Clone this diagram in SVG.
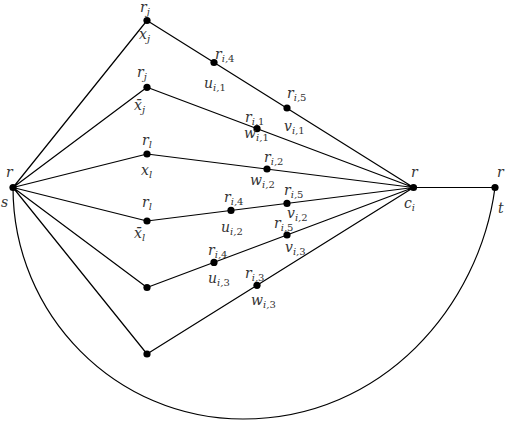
<svg xmlns="http://www.w3.org/2000/svg" width="508" height="421" viewBox="0 0 508 421">
<style>
.e{stroke:#000;stroke-width:1.2;fill:none}
.d{fill:#000}
text{font-family:"DejaVu Serif",serif;font-style:italic;font-size:14px;fill:#333}
.s{font-size:10px}
.n{font-style:normal}
</style>
<rect width="508" height="421" fill="#fff"/>
<g id="connectors">
<path class="e" d="M13,187.5L147,20.5M13,187.5L147,87.3M13,187.5L147,154M13,187.5L147,221M13,187.5L147,287.5M13,187.5L147,354"/>
<path class="e" d="M147,20.5L413.5,187.5M147,87.3L413.5,187.5M147,154L413.5,187.5M147,221L413.5,187.5M147,287.5L413.5,187.5M147,354L413.5,187.5M413.5,187.5L495,187.5"/>
<path class="e" d="M13,187.5C13,315 116,419 243,419C383,419 479.4,305.8 495,187.5"/>
</g>
<g id="s"><circle class="d" cx="13" cy="187.5" r="3.6"/><text x="6" y="177">r</text><text x="1" y="207">s</text></g>
<g id="ci"><circle class="d" cx="413.5" cy="187.5" r="3.6"/><text x="411" y="177">r</text><text x="404" y="208">c<tspan class="s" dy="3">i</tspan></text></g>
<g id="t"><circle class="d" cx="495" cy="187.5" r="3.6"/><text x="497" y="177">r</text><text x="498" y="213">t</text></g>
<g id="xj"><circle class="d" cx="147" cy="20.5" r="3.6"/><text x="140" y="12">r<tspan class="s" dy="3">j</tspan></text><text x="139" y="39">x<tspan class="s" dy="3">j</tspan></text></g>
<g id="xbarj"><circle class="d" cx="147" cy="87.3" r="3.6"/><text x="137" y="77">r<tspan class="s" dy="3">j</tspan></text><text x="134" y="110">x&#x304;<tspan class="s" dy="3">j</tspan></text></g>
<g id="xl"><circle class="d" cx="147" cy="154" r="3.6"/><text x="142" y="145">r<tspan class="s" dy="3">l</tspan></text><text x="141" y="175">x<tspan class="s" dy="3">l</tspan></text></g>
<g id="xbarl"><circle class="d" cx="147" cy="221" r="3.6"/><text x="142" y="207">r<tspan class="s" dy="3">l</tspan></text><text x="134" y="238">x&#x304;<tspan class="s" dy="3">l</tspan></text></g>
<g id="n5"><circle class="d" cx="147" cy="287.5" r="3.6"/></g>
<g id="n6"><circle class="d" cx="147" cy="354" r="3.6"/></g>
<g id="u1"><circle class="d" cx="214" cy="62.5" r="3.6"/><text x="215" y="59">r<tspan class="s" dy="2.5">i,<tspan class="n">4</tspan></tspan></text><text x="204" y="88">u<tspan class="s" dy="2.5">i,<tspan class="n">1</tspan></tspan></text></g>
<g id="v1"><circle class="d" cx="287" cy="108" r="3.6"/><text x="287" y="98">r<tspan class="s" dy="2.5">i,<tspan class="n">5</tspan></tspan></text><text x="284" y="131">v<tspan class="s" dy="2.5">i,<tspan class="n">1</tspan></tspan></text></g>
<g id="w1"><circle class="d" cx="257" cy="128.7" r="3.6"/><text x="245" y="122">r<tspan class="s" dy="2.5">i,<tspan class="n">1</tspan></tspan></text><text x="244" y="138">w<tspan class="s" dy="2.5">i,<tspan class="n">1</tspan></tspan></text></g>
<g id="w2"><circle class="d" cx="267" cy="169" r="3.6"/><text x="264" y="162">r<tspan class="s" dy="2.5">i,<tspan class="n">2</tspan></tspan></text><text x="250" y="185">w<tspan class="s" dy="2.5">i,<tspan class="n">2</tspan></tspan></text></g>
<g id="u2"><circle class="d" cx="231" cy="210.4" r="3.6"/><text x="224" y="202">r<tspan class="s" dy="2.5">i,<tspan class="n">4</tspan></tspan></text><text x="221" y="232">u<tspan class="s" dy="2.5">i,<tspan class="n">2</tspan></tspan></text></g>
<g id="v2"><circle class="d" cx="287" cy="203.4" r="3.6"/><text x="284" y="195">r<tspan class="s" dy="2.5">i,<tspan class="n">5</tspan></tspan></text><text x="287" y="218">v<tspan class="s" dy="2.5">i,<tspan class="n">2</tspan></tspan></text></g>
<g id="v3"><circle class="d" cx="287" cy="235" r="3.6"/><text x="274" y="228">r<tspan class="s" dy="2.5">i,<tspan class="n">5</tspan></tspan></text><text x="285" y="252">v<tspan class="s" dy="2.5">i,<tspan class="n">3</tspan></tspan></text></g>
<g id="u3"><circle class="d" cx="214" cy="262.4" r="3.6"/><text x="208" y="255">r<tspan class="s" dy="2.5">i,<tspan class="n">4</tspan></tspan></text><text x="208" y="283">u<tspan class="s" dy="2.5">i,<tspan class="n">3</tspan></tspan></text></g>
<g id="w3"><circle class="d" cx="257" cy="285.3" r="3.6"/><text x="245" y="278">r<tspan class="s" dy="2.5">i,<tspan class="n">3</tspan></tspan></text><text x="251" y="305">w<tspan class="s" dy="2.5">i,<tspan class="n">3</tspan></tspan></text></g>
</svg>
